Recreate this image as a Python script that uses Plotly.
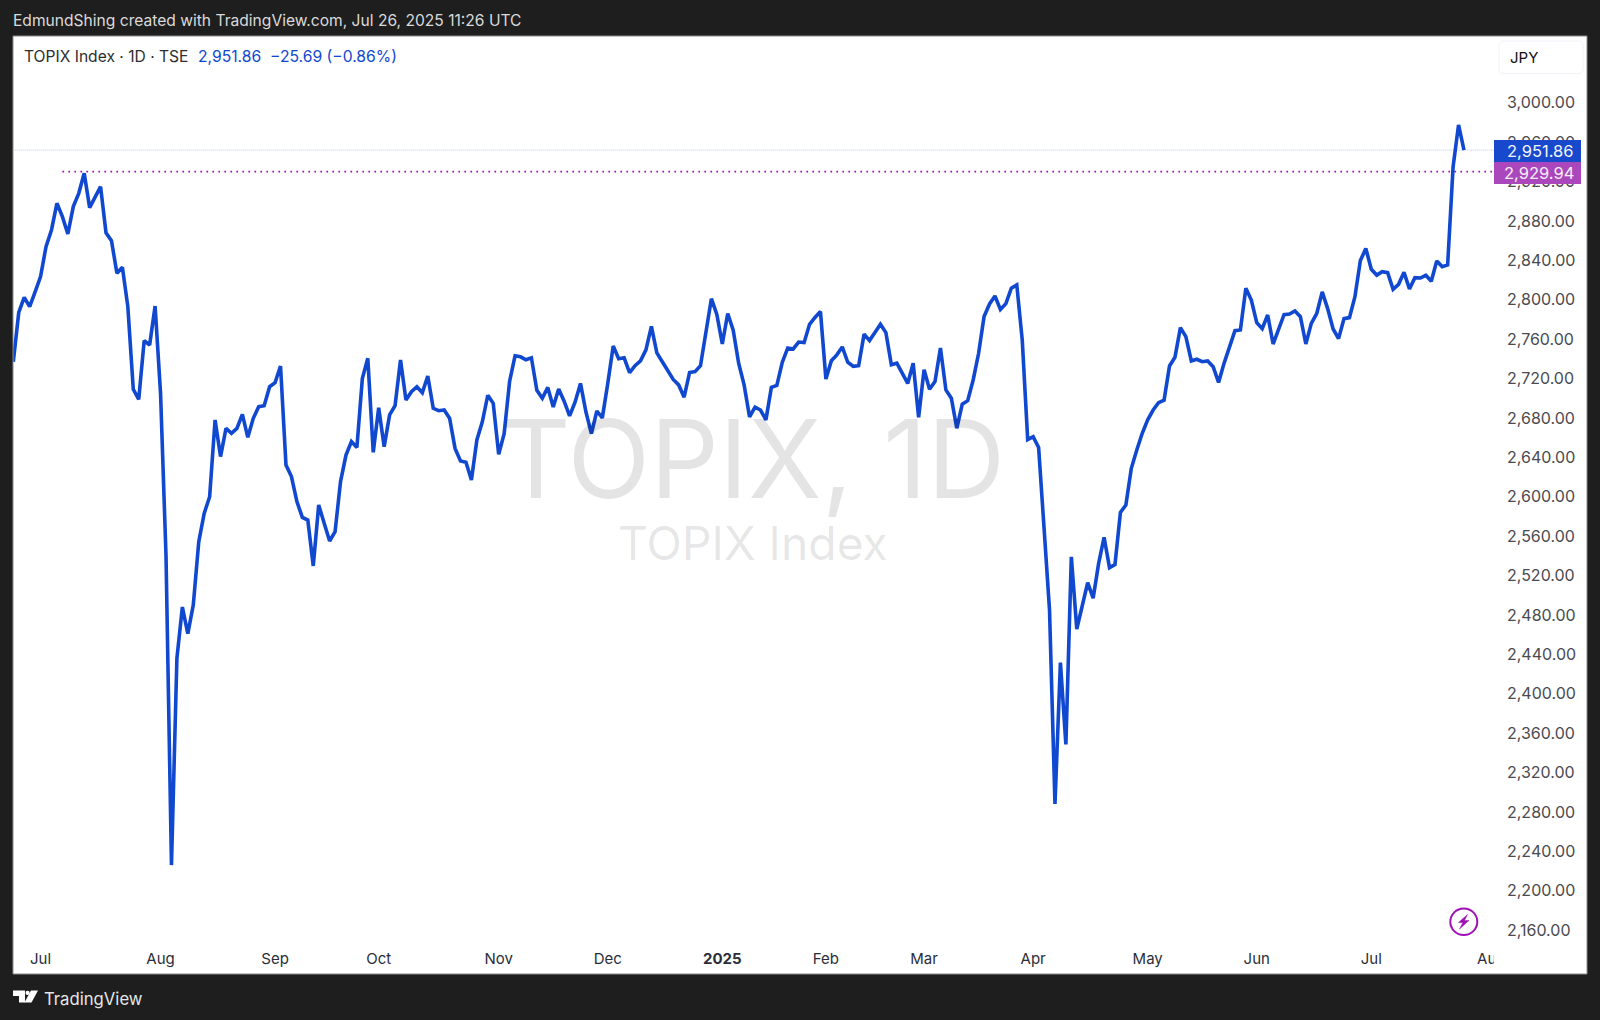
import plotly.graph_objects as go

# TOPIX daily closes
closes_jul_aug_2024 = [2737, 2787, 2802.4, 2793, 2808, 2823.4, 2853.9, 2870.8, 2897.9, 2884.3, 2866.7, 2894.5, 2908, 2928.3,
    2893.5, 2904.6, 2914.8, 2868, 2860, 2826.8, 2832.9, 2793, 2709, 2698.9, 2758.4, 2754, 2793.6, 2705, 2540, 2226, 2436,
    2488, 2461, 2490]
closes_aug_oct_2024 = [2554, 2583, 2600, 2677.9, 2640.7, 2669.4, 2664.3, 2669.4, 2683.6, 2660.3, 2679.6, 2691.4, 2692.4,
    2711.7, 2715.8, 2732.7, 2632.2, 2620.4, 2595, 2579, 2576.3, 2529.7, 2591.6, 2573, 2555, 2564.5, 2615.3, 2642.3, 2655.9,
    2650, 2720, 2740.5, 2645, 2690.4, 2650.8, 2683, 2692.4, 2738.8, 2698.2, 2706.6, 2711.7, 2705.6, 2722.5, 2689.7, 2687.3,
    2688, 2679.6, 2649, 2636.2, 2634.9, 2616.9, 2657.6, 2676, 2703, 2694.8, 2643]
closes_nov_2024_mar_2025 = [2664, 2717, 2743, 2742, 2739, 2741, 2708, 2700, 2711, 2691, 2709.4, 2697, 2682, 2696, 2715, 2686,
    2664, 2687, 2680, 2715, 2753, 2740, 2741, 2726, 2733, 2738, 2749, 2773, 2746, 2737, 2728, 2719, 2713.5, 2701, 2726, 2727,
    2733, 2768, 2801, 2785, 2755, 2786, 2769, 2735.5, 2713.5, 2681, 2691, 2688, 2678, 2711, 2713, 2736.5, 2751, 2750, 2757,
    2756.4, 2775, 2782, 2788, 2719.5, 2738, 2744, 2752, 2736.5, 2732.4, 2733, 2765, 2758.5, 2766, 2775, 2766.6, 2734, 2735.5,
    2724.6, 2715, 2735.5, 2680.6, 2729, 2709, 2717, 2751, 2708.4, 2700, 2669.5, 2694, 2697.5, 2718.5, 2745.6, 2783, 2795.7,
    2803.8, 2790, 2796, 2811.6, 2815]
closes_apr_may_2025 = [2759, 2658, 2661, 2650, 2568, 2485, 2288, 2431.5, 2348.6, 2539, 2465.7, 2488, 2512.8, 2497, 2532,
    2558.8, 2528, 2531, 2584, 2591.6, 2628.8, 2647.4, 2664.4, 2678, 2688, 2695.5, 2698]
closes_may_jul_2025 = [2732.7, 2741.5, 2771.6, 2762.5, 2737.8, 2739.5, 2737, 2737.8, 2732, 2716, 2735.4, 2750.7, 2768.6,
    2769.3, 2811.6, 2799.7, 2776.7, 2770.6, 2784.5, 2755, 2769.3, 2784.8, 2785.5, 2788.6, 2782.8, 2755, 2776, 2786, 2808,
    2791, 2770.3, 2760.5, 2780.8, 2781.8, 2803, 2839.7, 2852, 2830.9, 2825, 2828.5, 2827.5, 2810.6, 2815.6, 2827.8, 2811,
    2822.4, 2822, 2824.8, 2818.7, 2839.3, 2833.6, 2835.3, 2935, 2977.5, 2951.86]
closes = (closes_jul_aug_2024 + closes_aug_oct_2024 + closes_nov_2024_mar_2025 + closes_apr_may_2025 + closes_may_jul_2025)

month_bars = [5, 27, 48, 67, 89, 109, 130, 149, 167, 187, 208, 228, 249, 271]
month_labels = ["Jul", "Aug", "Sep", "Oct", "Nov", "Dec", "<b>2025</b>", "Feb", "Mar", "Apr", "May", "Jun", "Jul", "Aug"]
price_ticks = [2160, 2200, 2240, 2280, 2320, 2360, 2400, 2440, 2480, 2520, 2560, 2600, 2640, 2680, 2720, 2760, 2800, 2840,
               2880, 2920, 2960, 3000]
last_close = 2951.86
change = -25.69
change_pct = -0.86
high_level = 2929.94
high_start_bar = 9

BLUE = "#1148D0"
PURPLE = "#9E12B4"
DARK = "#1E1E1E"
W, H = 1600, 1020
FONT = "Inter"


def px(x):
    return x / W


def py(y):
    return 1 - y / H


def path(points, close=True):
    d = "M" + " L".join(f"{px(a):.5f},{py(b):.5f}" for a, b in points)
    return d + (" Z" if close else "")


def rrect(x0, y0, x1, y1, r):
    return (f"M{px(x0+r):.5f},{py(y0):.5f} L{px(x1-r):.5f},{py(y0):.5f} Q{px(x1):.5f},{py(y0):.5f} {px(x1):.5f},{py(y0+r):.5f} "
            f"L{px(x1):.5f},{py(y1-r):.5f} Q{px(x1):.5f},{py(y1):.5f} {px(x1-r):.5f},{py(y1):.5f} "
            f"L{px(x0+r):.5f},{py(y1):.5f} Q{px(x0):.5f},{py(y1):.5f} {px(x0):.5f},{py(y1-r):.5f} "
            f"L{px(x0):.5f},{py(y0+r):.5f} Q{px(x0):.5f},{py(y0):.5f} {px(x0+r):.5f},{py(y0):.5f} Z")


def rect(x0, y0, x1, y1, fill, layer="below", line=None, lw=0):
    return dict(type="rect", xref="paper", yref="paper", x0=px(x0), x1=px(x1), y0=py(y1), y1=py(y0),
                fillcolor=fill, layer=layer, line=dict(color=line or fill, width=lw))


def note(text, x, y, size, color, anchor="left", family=FONT):
    return dict(text=text, xref="paper", yref="paper", x=px(x), y=py(y), xanchor=anchor, yanchor="middle",
                showarrow=False, font=dict(family=family, size=size, color=color), borderpad=0, borderwidth=0)


bars = list(range(len(closes)))
x_max = 271.5
PANE_L, PANE_R, PANE_T, PANE_B = 13.3, 1494, 36, 945
y_top = 3000 + (102.7 - PANE_T) / 0.985
y_bot = 3000 - (PANE_B - 102.7) / 0.985

fig = go.Figure()
fig.add_trace(go.Scatter(x=[0, x_max], y=[last_close, last_close], mode="lines",
                         line=dict(color="#B4C5F0", width=1, dash="1px,1px"), hoverinfo="skip"))
fig.add_trace(go.Scatter(x=[high_start_bar, x_max], y=[high_level, high_level], mode="lines",
                         line=dict(color=PURPLE, width=1.7, dash="1.7px,4.3px"), hoverinfo="skip"))
fig.add_trace(go.Scatter(x=bars, y=closes, mode="lines", line=dict(color=BLUE, width=3.6, shape="linear"),
                         hoverinfo="skip"))

shapes = [
    rect(13, 36, 1587, 974, "white", line="#8A8A8A", lw=1),
    # clip of the last time label, blue and purple price labels
    rect(PANE_R, 946, 1540, 973, "white", layer="above"),
    rect(1494, 140, 1581, 162, "#1848CC", layer="above"),
    rect(1494, 162, 1581, 184, "#AB47BC", layer="above"),
    dict(type="path", xref="paper", yref="paper", path=rrect(1499, 41, 1583, 73.5, 5), layer="below",
         fillcolor="white", line=dict(color="#F0F2F7", width=1)),
    # lightning icon
    dict(type="circle", xref="paper", yref="paper", x0=px(1450.3), x1=px(1477.3), y0=py(935), y1=py(908.5),
         line=dict(color=PURPLE, width=2), fillcolor="white", layer="above"),
    dict(type="path", xref="paper", yref="paper", layer="above", fillcolor=PURPLE, line=dict(color=PURPLE, width=0.5),
         path=path([(1467.5, 914.5), (1458.5, 922.5), (1463, 922.5), (1459.5, 929), (1469, 920.5), (1464.5, 920.5)])),
    # TradingView mark
    dict(type="path", xref="paper", yref="paper", layer="above", fillcolor="white", line=dict(color="white", width=0),
         path=path([(13, 990.5), (25, 990.5), (25, 1002.5), (19, 1002.5), (19, 996), (13, 996)])),
    dict(type="circle", xref="paper", yref="paper", layer="above", fillcolor="white", line=dict(color="white", width=0),
         x0=px(25.5), x1=px(29.7), y0=py(995), y1=py(990.8)),
    dict(type="path", xref="paper", yref="paper", layer="above", fillcolor="white", line=dict(color="white", width=0),
         path=path([(31, 990.5), (38, 990.5), (31.5, 1002.5), (24.5, 1002.5)])),
]

annotations = [
    note("TOPIX, 1D", 753, 459, 108, "rgba(0,0,0,0.105)", anchor="center"),
    note("TOPIX Index", 753, 543, 46.3, "rgba(0,0,0,0.105)", anchor="center"),
    note("EdmundShing created with TradingView.com, Jul 26, 2025 11:26 UTC", 13.3, 20.5, 15.6, "#DADADA"),
    note("TOPIX Index · 1D · TSE", 23.5, 56, 15.6, "#2E2E2E"),
    note(f"{last_close:,.2f}  −{abs(change):.2f} (−{abs(change_pct):.2f}%)", 198, 56, 15.7, BLUE),
    note("JPY", 1510, 57, 15, "#111111"),
    note(f"{last_close:,.2f}", 1574, 150.5, 16.5, "#F4F6FF", anchor="right"),
    note(f"{high_level:,.2f}", 1574, 173, 16.5, "#F8EEFA", anchor="right"),
    note("TradingView", 43.5, 999, 16.7, "#E6E6E6"),
]

fig.update_layout(
    width=W, height=H, margin=dict(l=0, r=0, t=0, b=0, autoexpand=False),
    paper_bgcolor=DARK, plot_bgcolor="rgba(0,0,0,0)", showlegend=False,
    font=dict(family=FONT),
    xaxis=dict(domain=[px(PANE_L), px(PANE_R)], range=[0, x_max], tickmode="array", tickvals=month_bars,
               ticktext=month_labels, showgrid=False, zeroline=False, showline=False, ticks="",
               tickangle=0, tickfont=dict(family=FONT, size=15, color="#2A2E39"), ticklabelstandoff=3,
               ticklabeloverflow="allow"),
    yaxis=dict(domain=[py(PANE_B), py(PANE_T)], range=[y_bot, y_top], side="right", tickmode="array",
               tickvals=price_ticks, tickformat=",.2f", showgrid=False, zeroline=False, showline=False, ticks="",
               tickfont=dict(family=FONT, size=16, color="#4A4A50"), ticklabelstandoff=12,
               ticklabeloverflow="allow"),
    shapes=shapes, annotations=annotations,
)
fig.write_html("out.html", config=dict(displayModeBar=False),
               post_script="document.body.style.margin='0';document.documentElement.style.overflow='hidden';")
